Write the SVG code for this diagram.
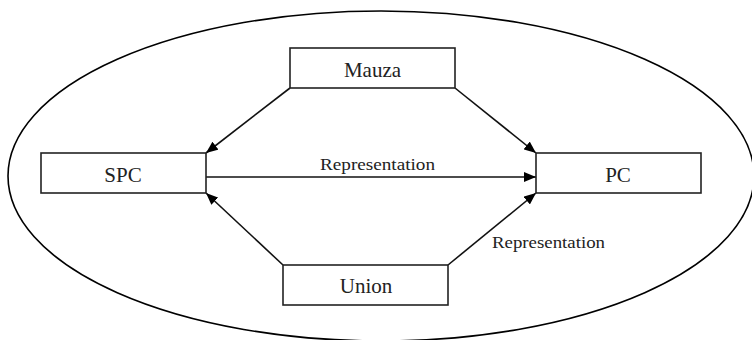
<svg xmlns="http://www.w3.org/2000/svg" width="752" height="340" viewBox="0 0 752 340">
<defs>
<style>
.box{fill:#fff;stroke:#222;stroke-width:1.6}
.lbl{font-family:"Liberation Serif","Times New Roman",serif;font-size:21px;fill:#222;text-anchor:middle}
.small{font-family:"Liberation Serif","Times New Roman",serif;font-size:16px;fill:#222}
.conn{stroke:#111;stroke-width:1.6;fill:none;marker-end:url(#ah)}
</style>
<marker id="ah" viewBox="0 0 12 10" refX="12" refY="5" markerWidth="12" markerHeight="10" markerUnits="userSpaceOnUse" orient="auto">
<path d="M0,0 L12,5 L0,10 Z" fill="#000"/>
</marker>
</defs>
<rect width="752" height="340" fill="#fff"/>
<ellipse cx="381" cy="176" rx="373" ry="165" fill="none" stroke="#000" stroke-width="1.6"/>
<g id="connectors">
<line class="conn" x1="290" y1="88" x2="206" y2="153"/>
<line class="conn" x1="455" y1="88" x2="536" y2="153"/>
<line class="conn" x1="206" y1="177" x2="536" y2="177"/>
<line class="conn" x1="283" y1="265" x2="206" y2="193"/>
<line class="conn" x1="448" y1="265" x2="536" y2="193"/>
<text class="small" x="320" y="170" textLength="115" lengthAdjust="spacingAndGlyphs">Representation</text>
<text class="small" x="492" y="248" textLength="113" lengthAdjust="spacingAndGlyphs">Representation</text>
</g>
<g id="mauza">
<rect class="box" x="290" y="48" width="165" height="40"/>
<text class="lbl" x="372.5" y="77">Mauza</text>
</g>
<g id="spc">
<rect class="box" x="41" y="153" width="165" height="40"/>
<text class="lbl" x="123" y="182">SPC</text>
</g>
<g id="pc">
<rect class="box" x="536" y="153" width="165" height="40"/>
<text class="lbl" x="618" y="182">PC</text>
</g>
<g id="union">
<rect class="box" x="283" y="265" width="165" height="40"/>
<text class="lbl" x="366" y="293">Union</text>
</g>
</svg>
